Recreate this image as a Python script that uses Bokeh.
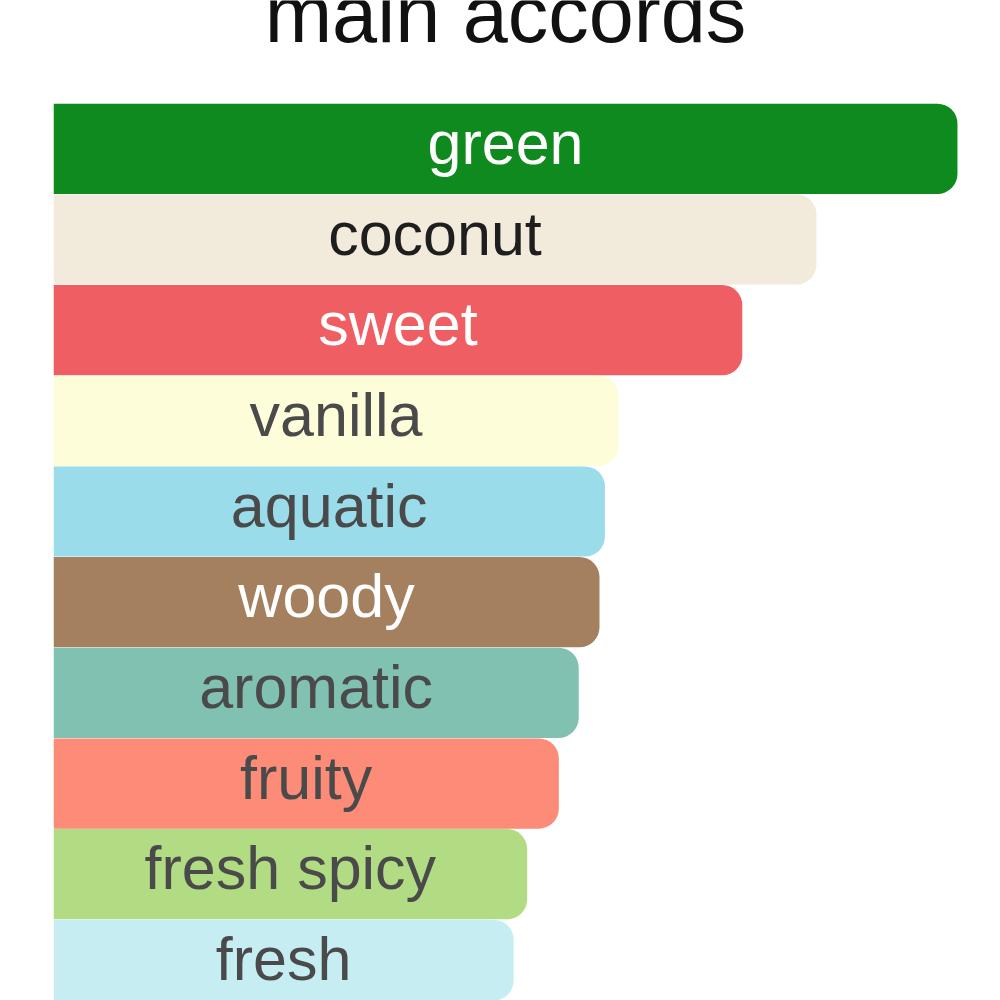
from bokeh.plotting import figure
from bokeh.models import ColumnDataSource, Range1d
from bokeh.core.properties import value
from bokeh.embed import file_html
from bokeh.resources import INLINE

# accord names, strengths (% of the strongest) and colours
accords = ['green', 'coconut', 'sweet', 'vanilla', 'aquatic', 'woody',
           'aromatic', 'fruity', 'fresh spicy', 'fresh']
strength = [100, 84.4, 76.2, 62.5, 61.0, 60.4, 58.1, 55.9, 52.4, 50.9]
bar_colors = ['#0f8a1f', '#f2eadb', '#ef5e63', '#fdfdd9', '#9adcea', '#a4805f',
              '#80c1b1', '#fc8b77', '#b2dc83', '#c6edf2']
text_colors = ['#ffffff', '#1e1e1e', '#ffffff', '#4a4a4a', '#4a4a4a', '#ffffff',
               '#4a4a4a', '#4a4a4a', '#4a4a4a', '#4a4a4a']
title = 'main accords'

src = ColumnDataSource(dict(
    name=accords,
    val=strength,
    mid=[v / 2 for v in strength],
    pos=list(range(len(accords))),
    fill=bar_colors,
    tcol=text_colors,
))

p = figure(width=1000, height=1000, output_backend="svg", toolbar_location=None,
           x_range=Range1d(0, 104.76), y_range=Range1d(9.393, -1.636),
           min_border_left=53, min_border_right=0,
           min_border_top=0, min_border_bottom=0)
p.axis.visible = False
p.grid.visible = False
p.outline_line_color = None

p.hbar(y='pos', left=0, right='val', height=0.995, source=src,
       fill_color='fill', line_color=None, border_radius=(0, 20, 20, 0))

p.text(x='mid', y='pos', text='name', source=src, y_offset=-6,
       text_color='tcol', text_align='center', text_baseline='middle',
       text_font=value("Liberation Sans"), text_font_size='61px')

# title sits above the top bar, partly cut by the top edge as in the source
p.text(x=[50], y=[-1.14], text=[title], y_offset=-31, text_align='center',
       text_baseline='alphabetic', text_color='#111111',
       text_font=value("Liberation Sans"), text_font_size='81px')

open("out.html", "w").write(file_html(p, INLINE))
